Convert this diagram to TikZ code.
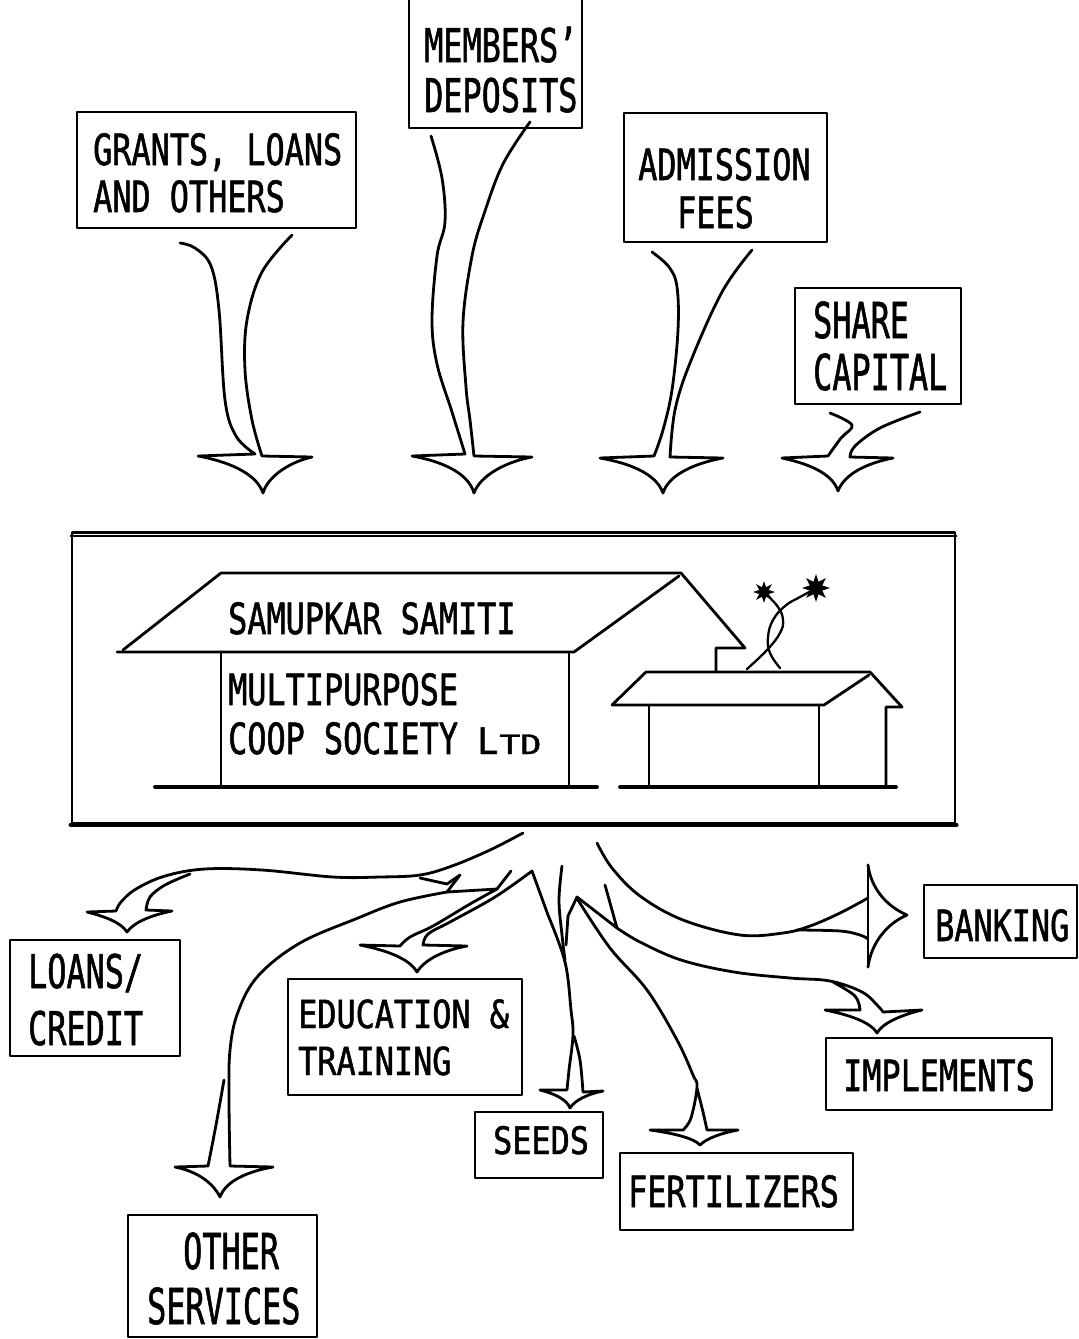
\documentclass[tikz,border=0pt]{standalone}
\usepackage{fontspec}
\usepackage{graphicx}
\newfontfamily\typeface[FakeStretch=0.74,FakeBold=1.2]{DejaVu Sans Mono}
\usetikzlibrary{shapes.geometric}
\begin{document}
\begin{tikzpicture}[x=1pt,y=-1pt,line cap=round,line join=round,
  ink/.style={line width=2.8pt},
  ground/.style={line width=3.8pt},
  frame/.style={draw,line width=2.8pt,rectangle,inner sep=0pt},
  lbl/.style={font=\typeface\fontsize{43}{48}\selectfont,inner sep=0pt,anchor=base west},
  bloom/.style={star,star points=8,star point ratio=2.1,fill=black,inner sep=0pt}]
\useasboundingbox (0,0) rectangle (1079,1339);
\fill[white] (0,0) rectangle (1079,1339);

% ---------- sources of funds ----------
\node[frame,minimum width=279pt,minimum height=116pt] (grants) at (216.5,170) {};
\node[lbl] (grantsA) at (93,165) {GRANTS, LOANS};
\node[lbl] (grantsB) at (93,212) {AND OTHERS};

\node[frame,minimum width=173pt,minimum height=133pt] (members) at (495.5,61.5) {};
\node[lbl] (membersA) at (424,62) {\scalebox{1}[1.08]{MEMBERS’}};
\node[lbl] (membersB) at (424,112) {\scalebox{1}[1.08]{DEPOSITS}};

\node[frame,minimum width=203pt,minimum height=129pt] (admission) at (725.5,177.5) {};
\node[lbl] (admissionA) at (638,180) {ADMISSION};
\node[lbl] (admissionB) at (677,228) {FEES};

\node[frame,minimum width=166pt,minimum height=116pt] (share) at (878,346) {};
\node[lbl] (shareA) at (813,338) {\scalebox{1}[1.15]{SHARE}};
\node[lbl] (shareB) at (813,390) {\scalebox{1}[1.15]{CAPITAL}};

% ---------- inflow arrows ----------
\draw[ink] plot[smooth,tension=0.6] coordinates {(180,243) (195,248) (211,266) (219,310) (225,400) (236,436) (255,454)}
  -- (198,456) .. controls (225,461) and (256,472) .. (263,493)
  .. controls (268,476) and (290,462) .. (312,457)
  -- plot[smooth,tension=0.6] coordinates {(262,456) (252,420) (245,370) (247,320) (262,272) (292,235)};

\draw[ink] plot[smooth,tension=0.6] coordinates {(431,136) (442,178) (445,222) (437,256) (432,320) (437,364) (452,412) (465,454)}
  -- (412,456) .. controls (440,461) and (468,472) .. (474,493)
  .. controls (480,476) and (505,462) .. (532,457)
  -- plot[smooth,tension=0.6] coordinates {(474,456) (470,420) (466,387) (463,322) (472,256) (484,214) (503,164) (530,122)};

\draw[ink] plot[smooth,tension=0.6] coordinates {(652,252) (669,267) (677,287) (678,330) (672,390) (663,430) (654,456)}
  -- (600,458) .. controls (628,463) and (656,473) .. (663,493)
  .. controls (669,474) and (696,463) .. (723,458)
  -- plot[smooth,tension=0.6] coordinates {(670,457) (675,410) (690,363) (722,292) (752,250)};

\draw[ink] plot[smooth,tension=0.6] coordinates {(830,413) (852,425) (841,438) (828,456)}
  -- (782,458) .. controls (805,463) and (832,472) .. (838,491)
  .. controls (845,473) and (868,463) .. (893,458)
  -- plot[smooth,tension=0.6] coordinates {(850,457) (855,446) (880,428) (920,412)};

% ---------- the society ----------
\node[draw,line width=2.8pt,rectangle,inner sep=0pt,minimum width=883pt,minimum height=291pt] (society) at (513.5,678) {};
\draw[line width=1.8pt] ([yshift=-5pt]society.north west) -- ([yshift=-5pt]society.north east);
\draw[line width=4.2pt] (society.south west) -- (society.south east);

% main building
\draw[ink] (123,650) -- (221,573) -- (681,573) -- (745,648) -- (716,648) -- (716,671);
\draw[ink] (117,652) -- (574,652) -- (679,576);
\draw[ink] (221,652) -- (221,786);
\draw[ink] (569,653) -- (569,786);
\draw[ground] (155,787) -- (597,787);
% store house
\draw[ink] (612,705) -- (646,672) -- (870,672) -- (902,707) -- (886,707) -- (886,787);
\draw[ink] (612,705) -- (824,705) -- (869,675);
\draw[ink] (649,705) -- (649,787);
\draw[ink] (819,705) -- (819,787);
\draw[ground] (620,787) -- (896,787);
% plant on the roof
\draw[line width=2.3pt] plot[smooth,tension=0.7] coordinates {(747,669) (767,650) (780,633) (783,620) (778,607) (765,593)};
\draw[line width=2.3pt] plot[smooth,tension=0.7] coordinates {(780,668) (770,653) (768,637) (773,620) (785,606) (800,597) (815,589)};
\node[bloom,minimum size=22pt] (flowerA) at (764,592) {};
\node[bloom,minimum size=28pt] (flowerB) at (816,588) {};

\node[lbl] (nameA) at (228,634) {SAMUPKAR SAMITI};
\node[lbl] (nameB) at (228,705) {MULTIPURPOSE};
\node[lbl] (nameC) at (228,754) {COOP SOCIETY \scalebox{1.1}[0.85]{L}\hspace{1pt}\scalebox{1.1}[0.62]{TD}};

% ---------- outflow arrows ----------
% loans / credit
\draw[ink] plot[smooth,tension=0.6] coordinates {(523,833) (490,850) (452,866) (420,875) (380,877) (333,877) (262,870) (205,869) (165,876) (136,889) (121,902) (116,911)}
  -- (87,912) .. controls (103,916) and (121,922) .. (127,932)
  .. controls (134,922) and (152,915) .. (172,911)
  -- plot[smooth,tension=0.6] coordinates {(146,910) (150,897) (165,885) (190,874)};
\draw[ink] (420,878) -- (447,884) -- (460,875) -- (447,892) -- (497,889) -- (511,871);
% other services
\draw[ink] plot[smooth,tension=0.6] coordinates {(447,892) (400,902) (358,918) (300,943) (258,976) (238,1012) (230,1050) (229,1100) (230,1166)}
  -- (273,1167) .. controls (250,1171) and (226,1180) .. (220,1197)
  .. controls (212,1181) and (195,1171) .. (175,1167)
  -- plot[smooth,tension=0.6] coordinates {(208,1166) (216,1125) (224,1080)};
% education and seeds
\draw[ink] plot[smooth,tension=0.6] coordinates {(497,889) (470,904) (433,926) (410,937) (400,946)}
  -- (360,945) .. controls (385,950) and (409,958) .. (417,972)
  .. controls (425,959) and (445,950) .. (467,946)
  -- plot[smooth,tension=0.6] coordinates {(423,945) (428,934) (450,922) (495,897) (532,871)}
  -- plot[smooth,tension=0.6] coordinates {(548,915) (565,962) (571,1010) (573,1035) (569,1070) (567,1090)}
  -- (540,1090) .. controls (556,1094) and (567,1100) .. (570,1108)
  .. controls (575,1100) and (588,1094) .. (603,1091)
  -- plot[smooth,tension=0.6] coordinates {(583,1092) (580,1060) (574,1036)};
\draw[ink] plot[smooth,tension=0.6] coordinates {(562,866) (559,900) (562,935) (565,960)};
\draw[ink] (605,885) -- (617,928) -- (577,897) -- (568,916) -- (566,945);
% implements
\draw[ink] plot[smooth,tension=0.6] coordinates {(617,928) (640,942) (681,960) (734,972) (790,978) (830,981) (862,992) (878,1006) (883,1012)}
  -- (922,1010) .. controls (905,1014) and (883,1022) .. (877,1033)
  .. controls (870,1021) and (845,1014) .. (825,1010)
  -- plot[smooth,tension=0.6] coordinates {(860,1010) (855,996) (833,982)};
% fertilizers
\draw[ink] plot[smooth,tension=0.6] coordinates {(578,900) (610,948) (647,990) (677,1040) (693,1075) (697,1087) (691,1118) (683,1130)}
  -- (650,1130) .. controls (672,1133) and (694,1138) .. (700,1145)
  .. controls (707,1138) and (722,1133) .. (738,1130)
  -- plot[smooth,tension=0.6] coordinates {(707,1130) (703,1112) (697,1088)};
% banking
\draw[ink] plot[smooth,tension=0.6] coordinates {(597,843) (612,868) (640,896) (683,920) (740,935) (783,933) (810,926) (840,913) (868,898)};
\draw[ink] plot[smooth,tension=0.6] coordinates {(797,930) (840,931) (860,935) (868,939)};
\draw[ink] (868,865) -- (868,967);
\draw[ink] (868,865) .. controls (871,888) and (886,906) .. (907,915) .. controls (886,924) and (871,944) .. (868,967);

% ---------- uses of funds ----------
\node[frame,minimum width=170pt,minimum height=116pt] (loans) at (95,998) {};
\node[lbl] (loansA) at (28,988) {\scalebox{1}[1.08]{LOANS/}};
\node[lbl] (loansB) at (28,1045) {\scalebox{1}[1.08]{CREDIT}};

\node[frame,minimum width=234pt,minimum height=116pt] (education) at (405,1037) {};
\node[lbl] (educationA) at (298,1028) {\scalebox{1}[0.9]{EDUCATION \&}};
\node[lbl] (educationB) at (298,1075) {\scalebox{1}[0.9]{TRAINING}};

\node[frame,minimum width=128pt,minimum height=66pt] (seeds) at (539,1145) {};
\node[lbl] (seedsA) at (493,1154) {\scalebox{1}[0.88]{SEEDS}};

\node[frame,minimum width=233pt,minimum height=77pt] (fertilizers) at (736.5,1191.5) {};
\node[lbl] (fertilizersA) at (628,1207) {FERTILIZERS};

\node[frame,minimum width=153pt,minimum height=73pt] (banking) at (1000.5,921.5) {};
\node[lbl] (bankingA) at (935,941) {BANKING};

\node[frame,minimum width=226pt,minimum height=72pt] (implements) at (939,1074) {};
\node[lbl] (implementsA) at (843,1091) {IMPLEMENTS};

\node[frame,minimum width=189pt,minimum height=122pt] (other) at (222.5,1276) {};
\node[lbl] (otherA) at (183,1269) {\scalebox{1}[1.15]{OTHER}};
\node[lbl] (otherB) at (147,1324) {\scalebox{1}[1.15]{SERVICES}};
\end{tikzpicture}
\end{document}
